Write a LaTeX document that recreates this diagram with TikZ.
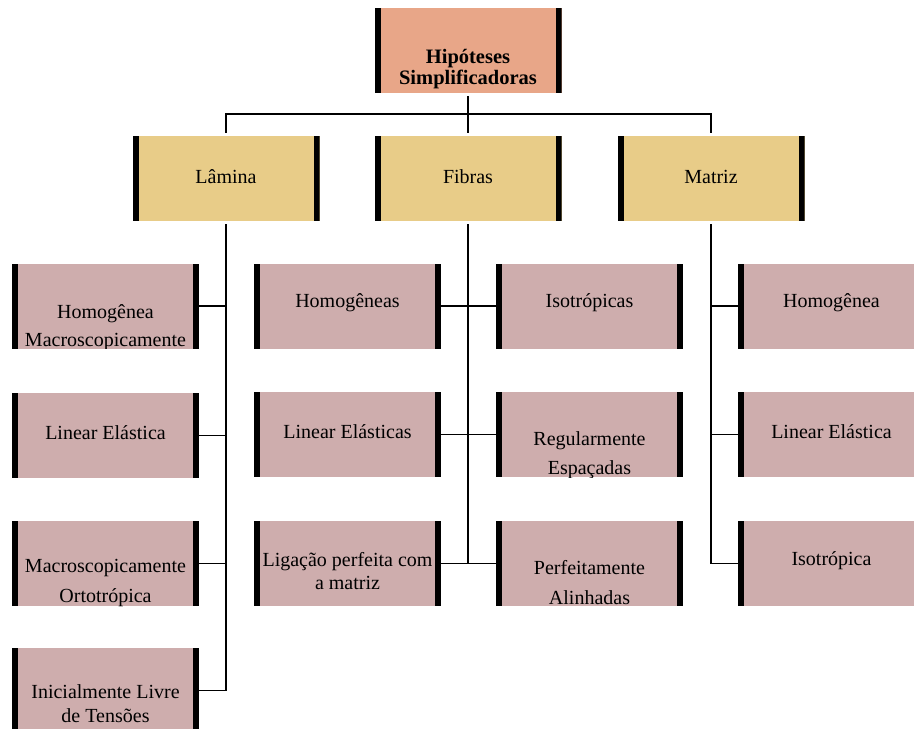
\documentclass[tikz,border=0pt]{standalone}
\usepackage{fontspec}
\setmainfont{Liberation Serif}
\usetikzlibrary{calc}
\definecolor{salmon}{RGB}{232,166,136}
\definecolor{sand}{RGB}{232,204,136}
\definecolor{rose}{RGB}{206,173,173}
\tikzset{
  x=1pt, y=-1pt,
  basebox/.style={minimum width=187pt, minimum height=85pt, inner sep=0pt, draw=none,
    path picture={
      \fill[black] (path picture bounding box.north west) rectangle ([xshift=6pt]path picture bounding box.south west);
      \fill[black] (path picture bounding box.north east) rectangle ([xshift=-6pt]path picture bounding box.south east);
    }},
  topbox/.style={basebox, fill=salmon},
  midbox/.style={basebox, fill=sand},
  leafbox/.style={basebox, fill=rose},
  txt/.style={align=center, inner sep=0pt, font=\fontsize{20pt}{28pt}\selectfont},
  conn/.style={draw=black, line width=1.6pt},
}
\newcommand\btext[4]{%
  \begin{scope}
    \clip (#1.north west) rectangle (#1.south east);
    \node[txt, font=\fontsize{20pt}{#3pt}\selectfont] at ($(#1.center)+(0,#2)$) {#4};
  \end{scope}}
\begin{document}
\begin{tikzpicture}
\useasboundingbox (0,0) rectangle (914,729);
\clip (0,0) rectangle (914,729);

% top
\node[topbox] (top) at (468,50.5) {};
\begin{scope}
  \clip (top.north west) rectangle (top.south east);
  \node[txt, font=\bfseries\fontsize{20.5pt}{21pt}\selectfont] at ($(top.center)+(0,18.5)$) {Hipóteses\\Simplificadoras};
\end{scope}

% second level
\node[midbox] (lam) at (226,178.5) {};
\node[midbox] (fib) at (468,178.5) {};
\node[midbox] (mat) at (711,178.5) {};
\btext{lam}{-2}{24}{Lâmina}
\btext{fib}{-2}{24}{Fibras}
\btext{mat}{-2}{24}{Matriz}

% left column
\node[leafbox] (l1) at (105.5,306) {};
\node[leafbox] (l2) at (105.5,435.5) {};
\node[leafbox] (l3) at (105.5,563.5) {};
\node[leafbox] (l4) at (105.5,690.5) {};
\btext{l1}{22}{28}{Homogênea\\Macroscopicamente}
\btext{l2}{-3}{28}{Linear Elástica}
\btext{l3}{19}{30}{Macroscopicamente\\Ortotrópica}
\btext{l4}{13.5}{24}{Inicialmente Livre\\de Tensões}

% middle column
\node[leafbox] (m1) at (347.5,306) {};
\node[leafbox] (m2) at (347.5,434.5) {};
\node[leafbox] (m3) at (347.5,563.5) {};
\node[leafbox] (n1) at (589.5,306) {};
\node[leafbox] (n2) at (589.5,434.5) {};
\node[leafbox] (n3) at (589.5,563.5) {};
\btext{m1}{-3}{28}{Homogêneas}
\btext{m2}{-3}{28}{Linear Elásticas}
\btext{m3}{8}{23}{Ligação perfeita com\\a matriz}
\btext{n1}{-3}{28}{Isotrópicas}
\btext{n2}{21}{29}{Regularmente\\Espaçadas}
\btext{n3}{19.5}{30}{Perfeitamente\\Alinhadas}

% right column
\node[leafbox] (r1) at (831.5,306) {};
\node[leafbox] (r2) at (831.5,434.5) {};
\node[leafbox] (r3) at (831.5,563.5) {};
\btext{r1}{-3}{28}{Homogênea}
\btext{r2}{-3}{28}{Linear Elástica}
\btext{r3}{-3}{28}{Isotrópica}

% connectors top -> second level
\coordinate (j) at (468,114);
\draw[conn] ([yshift=-3pt]top.south) -- ([yshift=3pt]fib.north);
\draw[conn] ([yshift=3pt]lam.north) |- (j) -| ([yshift=3pt]mat.north);

% left trunk
\draw[conn] ([yshift=-3pt]lam.south) |- (l4.east);
\draw[conn] (l1.east) -- (l1.east -| lam.south);
\draw[conn] (l2.east) -- (l2.east -| lam.south);
\draw[conn] (l3.east) -- (l3.east -| lam.south);

% middle trunk
\draw[conn] ([yshift=-3pt]fib.south) -- (fib.south |- m3.east);
\draw[conn] (m1.east) -- (n1.west);
\draw[conn] (m2.east) -- (n2.west);
\draw[conn] (m3.east) -- (n3.west);

% right trunk
\draw[conn] ([yshift=-3pt]mat.south) |- (r3.west);
\draw[conn] (r1.west) -- (r1.west -| mat.south);
\draw[conn] (r2.west) -- (r2.west -| mat.south);
\end{tikzpicture}
\end{document}
